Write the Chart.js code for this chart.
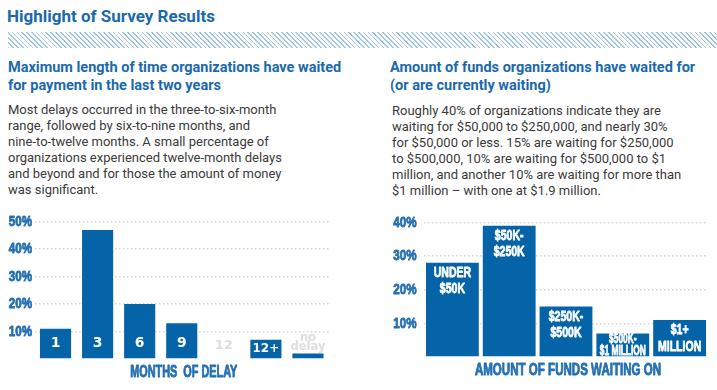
<!DOCTYPE html>
<html>
<head>
<meta charset="utf-8">
<script src="https://cdn.jsdelivr.net/npm/chart.js@4.4.1/dist/chart.umd.min.js"></script>
<style>
  html, body { margin: 0; padding: 0; background: #fff; }
  body { width: 717px; height: 390px; position: relative; overflow: hidden; font-family: Roboto, 'Noto Sans', sans-serif; }
  .title { position: absolute; left: 7px; top: 6px; font-size: 17px; font-weight: 700; color: #1b69ad; }
  .hatch { position: absolute; left: 8px; right: 0; top: 32px; height: 16px;
    background: repeating-linear-gradient(45deg, #9fc6e8 0 1.2px, transparent 1.2px 3.4px); }
  .sub { position: absolute; font-size: 14.5px; font-weight: 700; color: #1b69ad; line-height: 18px; }
  .body { position: absolute; font-size: 13px; color: #3a3a3a; line-height: 16px; }
  .box { position: absolute; }
</style>
</head>
<body>
<div class="title">Highlight of Survey Results</div>
<div class="hatch"></div>

<div class="sub" style="left:8px; top:59px;">Maximum length of time organizations have waited<br>for payment in the last two years</div>
<div class="body" style="left:8px; top:102px;">Most delays occurred in the three-to-six-month<br>range, followed by six-to-nine months, and<br>nine-to-twelve months. A small percentage of<br>organizations experienced twelve-month delays<br>and beyond and for those the amount of money<br>was significant.</div>

<div class="sub" style="left:390px; top:59px;">Amount of funds organizations have waited for<br>(or are currently waiting)</div>
<div class="body" style="left:392px; top:103px;">Roughly 40% of organizations indicate they are<br>waiting for $50,000 to $250,000, and nearly 30%<br>for $50,000 or less. 15% are waiting for $250,000<br>to $500,000, 10% are waiting for $500,000 to $1<br>million, and another 10% are waiting for more than<br>$1 million – with one at $1.9 million.</div>

<div class="box" style="left:0px; top:205px; width:329px; height:179px;"><canvas id="delayChart"></canvas></div>
<div class="box" style="left:360px; top:205px; width:348px; height:177px;"><canvas id="fundsChart"></canvas></div>

<script>
// chart data
const delayLabels = ['1', '3', '6', '9', '12', '12+', ['no', 'delay']];
const delayValues = [11, 47, 20, 13, 0, 7, 2];
const delayTicks = [10, 20, 30, 40, 50];
const delayTitle = 'MONTHS  OF DELAY';

const fundLabels = [['UNDER', '$50K'], ['$50K-', '$250K'], ['$250K-', '$500K'], ['$500K-', '$1 MILLION'], ['$1+', 'MILLION']];
const fundValues = [28, 39, 15, 7, 11];
const fundTicks = [10, 20, 30, 40];
const fundTitle = 'AMOUNT OF FUNDS WAITING ON';

const BLUE = '#0564a8';
const TICK_BLUE = '#2470b3';
const CONDENSED = "'Liberation Sans', Arial, sans-serif";

// draws text squeezed horizontally (and a bit heavier), to get the look of a condensed face
const squeezed = (ctx, text, x, y, sx, align, weight) => {
  ctx.save();
  ctx.translate(x, y);
  ctx.scale(sx, 1);
  ctx.textAlign = align;
  ctx.fillText(text, 0, 0);
  if (weight) {
    ctx.strokeStyle = ctx.fillStyle;
    ctx.lineWidth = weight;
    ctx.lineJoin = 'round';
    ctx.strokeText(text, 0, 0);
  }
  ctx.restore();
};

const yScale = (max, ticksList, width) => ({
  min: 0,
  max: max,
  afterFit: (scale) => { scale.width = width; },
  afterBuildTicks: (scale) => { scale.ticks = [0, ...ticksList].map((v) => ({ value: v })); },
  ticks: { display: false },
  grid: {
    drawTicks: false,
    lineWidth: 1.5,
    color: (ctx) => (ctx.tick && ctx.tick.value === 0 ? 'rgba(0,0,0,0)' : '#d6d6d6'),
  },
  border: { display: false, dash: [1.5, 2.5] },
});

// y tick labels and x axis title in a narrow bold face
const axisTextPlugin = (title, tickPad, titleGap, titleSx) => ({
  id: 'axisText',
  afterDraw(chart) {
    const ctx = chart.ctx;
    const area = chart.chartArea;
    const y = chart.scales.y;
    ctx.save();
    ctx.fillStyle = TICK_BLUE;
    ctx.textBaseline = 'middle';
    ctx.font = 'bold 15.5px ' + CONDENSED;
    y.ticks.forEach((t) => {
      if (t.value === 0) return;
      squeezed(ctx, t.value + '%', area.left - tickPad, y.getPixelForValue(t.value), 0.75, 'right', 0.9);
    });
    ctx.font = 'bold 17px ' + CONDENSED;
    squeezed(ctx, title, (area.left + area.right) / 2 + 2, area.bottom + titleGap, titleSx, 'center', 0.9);
    ctx.restore();
  },
});

// labels inside the delay bars
const delayLabelPlugin = {
  id: 'delayLabels',
  afterDatasetsDraw(chart) {
    const ctx = chart.ctx;
    const meta = chart.getDatasetMeta(0);
    ctx.save();
    ctx.textAlign = 'center';
    ctx.textBaseline = 'middle';
    meta.data.forEach((bar, i) => {
      const lines = [].concat(delayLabels[i]);
      const value = delayValues[i];
      const h = bar.base - bar.y;
      if (value === 0) {
        ctx.fillStyle = '#dedede';
        ctx.font = "bold 13px 'DejaVu Sans', sans-serif";
        ctx.fillText(lines[0], bar.x, bar.base - 13);
      } else if (value < 5) {
        ctx.fillStyle = '#dedede';
        ctx.font = "bold 11.5px 'DejaVu Sans', sans-serif";
        const bottom = bar.y - 6;
        lines.slice().reverse().forEach((ln, k) => ctx.fillText(ln, bar.x, bottom - k * 9.5));
      } else if (h >= 28) {
        ctx.fillStyle = '#ffffff';
        ctx.font = "bold 14px 'DejaVu Sans', sans-serif";
        ctx.fillText(lines[0], bar.x, bar.base - 15);
      } else {
        ctx.fillStyle = '#ffffff';
        ctx.font = "bold 12px 'DejaVu Sans', sans-serif";
        ctx.fillText(lines[0], bar.x, bar.base - h / 2);
      }
    });
    ctx.restore();
  },
};

// labels at the top of the funds bars
const fundLabelPlugin = {
  id: 'fundLabels',
  afterDatasetsDraw(chart) {
    const ctx = chart.ctx;
    const meta = chart.getDatasetMeta(0);
    ctx.save();
    ctx.textBaseline = 'middle';
    ctx.fillStyle = '#ffffff';
    meta.data.forEach((bar, i) => {
      const lines = fundLabels[i];
      let size = 15.5;
      let sx = 0.68;
      ctx.font = 'bold ' + size + 'px ' + CONDENSED;
      const widest = Math.max(...lines.map((ln) => ctx.measureText(ln).width * sx));
      if (widest > bar.width - 2) {
        sx = sx * (bar.width - 2) / widest;
        size = 14;
        ctx.font = 'bold ' + size + 'px ' + CONDENSED;
      }
      let y1 = bar.y + 10;
      let step = 16.5;
      if (y1 + step > bar.base - 8) {
        y1 = bar.y + 5.5;
        step = bar.base - 5.5 - y1;
      }
      lines.forEach((ln, k) => squeezed(ctx, ln, bar.x, y1 + k * step, sx, 'center', 0.8));
    });
    ctx.restore();
  },
};

const baseOptions = (top, yOpts) => ({
  responsive: true,
  maintainAspectRatio: false,
  animation: false,
  layout: { padding: { top: top, left: 0, right: 0, bottom: 25 } },
  plugins: { legend: { display: false }, tooltip: { enabled: false } },
  scales: { x: { display: false }, y: yOpts },
});

new Chart(document.getElementById('delayChart'), {
  type: 'bar',
  data: {
    labels: delayLabels,
    datasets: [{ data: delayValues, backgroundColor: BLUE, borderWidth: 0, barPercentage: 0.74, categoryPercentage: 1 }],
  },
  options: baseOptions(16.7, yScale(50, delayTicks, 34.5)),
  plugins: [delayLabelPlugin, axisTextPlugin(delayTitle, 2.5, 13.5, 0.64)],
});

new Chart(document.getElementById('fundsChart'), {
  type: 'bar',
  data: {
    labels: fundLabels,
    datasets: [{ data: fundValues, backgroundColor: BLUE, borderWidth: 0, barPercentage: 0.93, categoryPercentage: 1 }],
  },
  options: baseOptions(17.3, yScale(40, fundTicks, 64)),
  plugins: [fundLabelPlugin, axisTextPlugin(fundTitle, 7.5, 13, 0.68)],
});
</script>
</body>
</html>
